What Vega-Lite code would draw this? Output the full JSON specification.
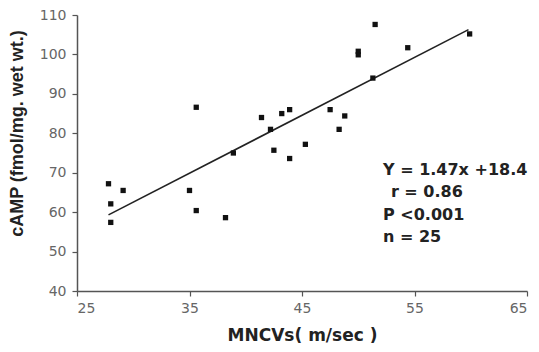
{
  "$schema": "https://vega.github.io/schema/vega-lite/v6.json",
  "width": 450,
  "height": 276,
  "autosize": {"type": "none"},
  "padding": {"left": 77, "top": 15, "right": 12, "bottom": 61},
  "background": "white",
  "config": {
    "view": {"stroke": null},
    "axis": {
      "grid": false,
      "domainColor": "#555555",
      "domainWidth": 1.5,
      "tickColor": "#555555",
      "tickWidth": 1.2,
      "tickSize": 5,
      "labelFont": "DejaVu Sans",
      "labelFontSize": 14,
      "labelColor": "#666666",
      "titleFont": "DejaVu Sans",
      "titleColor": "#222222"
    }
  },
  "datasets": {
    "points": [
      {"mncv": 27.8, "camp": 67.2},
      {"mncv": 28.0, "camp": 62.1},
      {"mncv": 28.0, "camp": 57.4},
      {"mncv": 29.1, "camp": 65.5},
      {"mncv": 35.0, "camp": 65.5},
      {"mncv": 35.6, "camp": 60.4},
      {"mncv": 38.2, "camp": 58.6},
      {"mncv": 35.6, "camp": 86.6},
      {"mncv": 38.9, "camp": 75.0},
      {"mncv": 41.4, "camp": 84.0},
      {"mncv": 42.2, "camp": 81.0},
      {"mncv": 43.2, "camp": 85.0},
      {"mncv": 43.9, "camp": 86.0},
      {"mncv": 42.5, "camp": 75.7},
      {"mncv": 43.9, "camp": 73.6},
      {"mncv": 45.3, "camp": 77.2},
      {"mncv": 47.5, "camp": 86.0},
      {"mncv": 48.8, "camp": 84.4},
      {"mncv": 48.3, "camp": 81.0},
      {"mncv": 50.0, "camp": 100.8},
      {"mncv": 50.0, "camp": 99.9},
      {"mncv": 51.5, "camp": 107.6},
      {"mncv": 51.3, "camp": 94.0},
      {"mncv": 54.4, "camp": 101.7},
      {"mncv": 59.9, "camp": 105.2}
    ],
    "fit": [
      {"mncv": 27.8, "camp": 59.3},
      {"mncv": 59.8, "camp": 106.3}
    ],
    "notes": [
      {"mncv": 52.2, "camp": 70.6, "label": "Y = 1.47x +18.4"},
      {"mncv": 52.9, "camp": 65.2, "label": "r = 0.86"},
      {"mncv": 52.2, "camp": 59.4, "label": "P <0.001"},
      {"mncv": 52.2, "camp": 53.8, "label": "n = 25"}
    ]
  },
  "encoding": {
    "x": {
      "field": "mncv",
      "type": "quantitative",
      "scale": {"domain": [25, 65], "nice": false, "zero": false},
      "axis": {
        "values": [25, 35, 45, 55, 65],
        "title": "MNCVs( m/sec )",
        "titleFontSize": 17,
        "titleFontWeight": "bold",
        "titlePadding": 12,
        "labelPadding": 5
      }
    },
    "y": {
      "field": "camp",
      "type": "quantitative",
      "scale": {"domain": [40, 110], "nice": false, "zero": false},
      "axis": {
        "values": [40, 50, 60, 70, 80, 90, 100, 110],
        "title": "cAMP (fmol/mg. wet wt.)",
        "titleFont": "Liberation Sans",
        "titleFontSize": 18,
        "titleFontWeight": "bold",
        "titlePadding": 13,
        "titleY": 118,
        "labelPadding": 6
      }
    }
  },
  "layer": [
    {
      "data": {"name": "fit"},
      "mark": {"type": "line", "color": "#222222", "strokeWidth": 1.6}
    },
    {
      "data": {"name": "points"},
      "mark": {"type": "square", "size": 28, "filled": true, "color": "#111111", "opacity": 1}
    },
    {
      "data": {"name": "notes"},
      "mark": {"type": "text", "align": "left", "baseline": "middle", "font": "DejaVu Sans", "fontWeight": "bold", "fontSize": 16, "color": "#222222"},
      "encoding": {"text": {"field": "label", "type": "nominal"}}
    }
  ]
}
